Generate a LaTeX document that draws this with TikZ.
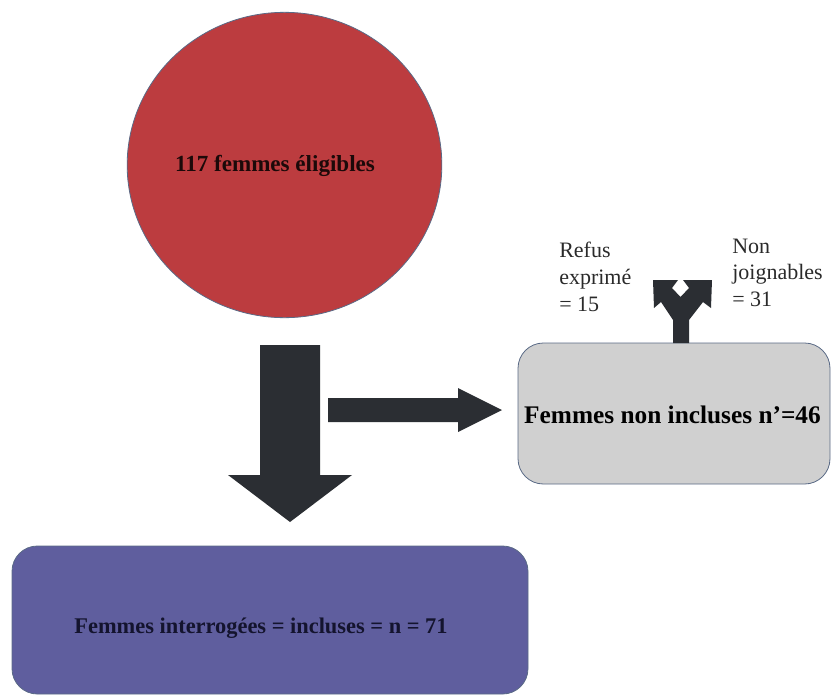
\documentclass[tikz,border=0pt]{standalone}
\usepackage{fontspec}
\setmainfont{Liberation Serif}
\usetikzlibrary{shapes.geometric}
\definecolor{cred}{HTML}{BC3C3F}
\definecolor{cblue}{HTML}{5F5E9E}
\definecolor{cgrey}{HTML}{D0D0D0}
\definecolor{cedge}{HTML}{5A6A86}
\definecolor{carrow}{HTML}{2B2E33}
\definecolor{cnavy}{HTML}{14142E}
\definecolor{clabel}{HTML}{2A2A2A}
\tikzset{
  px/.style={x=0.75pt,y=-0.75pt},
  boldtxt/.style={font=\fontsize{16.8}{19}\selectfont\bfseries},
  labeltxt/.style={font=\fontsize{16.5}{20}\selectfont, text=clabel, align=left, anchor=north west, inner sep=0pt},
  blockarrow/.style={fill=carrow, draw=none},
  roundbox/.style={rounded corners=19pt, draw=cedge, line width=0.6pt}
}
\begin{document}
\begin{tikzpicture}[px]
\useasboundingbox (0,0) rectangle (832,697);
% circle
\node[ellipse, fill=cred, draw=cedge, line width=0.6pt, minimum width=236pt, minimum height=229pt, inner sep=0pt] (elig) at (284.5,165) {};
\node[boldtxt, font=\fontsize{17.3}{20}\selectfont\bfseries, text=black!85!cred] (eligtxt) at (275,166) {117 femmes éligibles};
% grey box
\draw[roundbox, fill=cgrey] (518,343) rectangle (830,484);
\node[boldtxt, font=\fontsize{19}{21}\selectfont\bfseries, text=black] (noninc) at (672.5,415) {Femmes non incluses n’=46};
% blue box
\draw[roundbox, fill=cblue] (12,546) rectangle (528,694);
\node[boldtxt, text=cnavy] (inc) at (261,628) {Femmes interrogées = incluses = n = 71};
% down arrow
\fill[blockarrow] (260,345) -- (320,345) -- (320,475) -- (352,475) -- (290,522) -- (228,475) -- (260,475) -- cycle;
% right arrow
\fill[blockarrow] (328,398) -- (458,398) -- (458,388) -- (502,410) -- (458,432) -- (458,422) -- (328,422) -- cycle;
% fork arrow
\fill[blockarrow] (673,343) -- (673,320) -- (661,302) -- (654,308) -- (653,280) -- (678,280) -- (672,288) -- (680.5,297) -- (689,288) -- (683,280) -- (712,280) -- (711,308) -- (703,302) -- (689,320) -- (689,343) -- cycle;
% labels
\node[labeltxt] (refus) at (559,242) {Refus\\exprimé\\= 15};
\node[labeltxt] (nonj) at (732,238.5) {Non\\joignables\\= 31};
\end{tikzpicture}
\end{document}
